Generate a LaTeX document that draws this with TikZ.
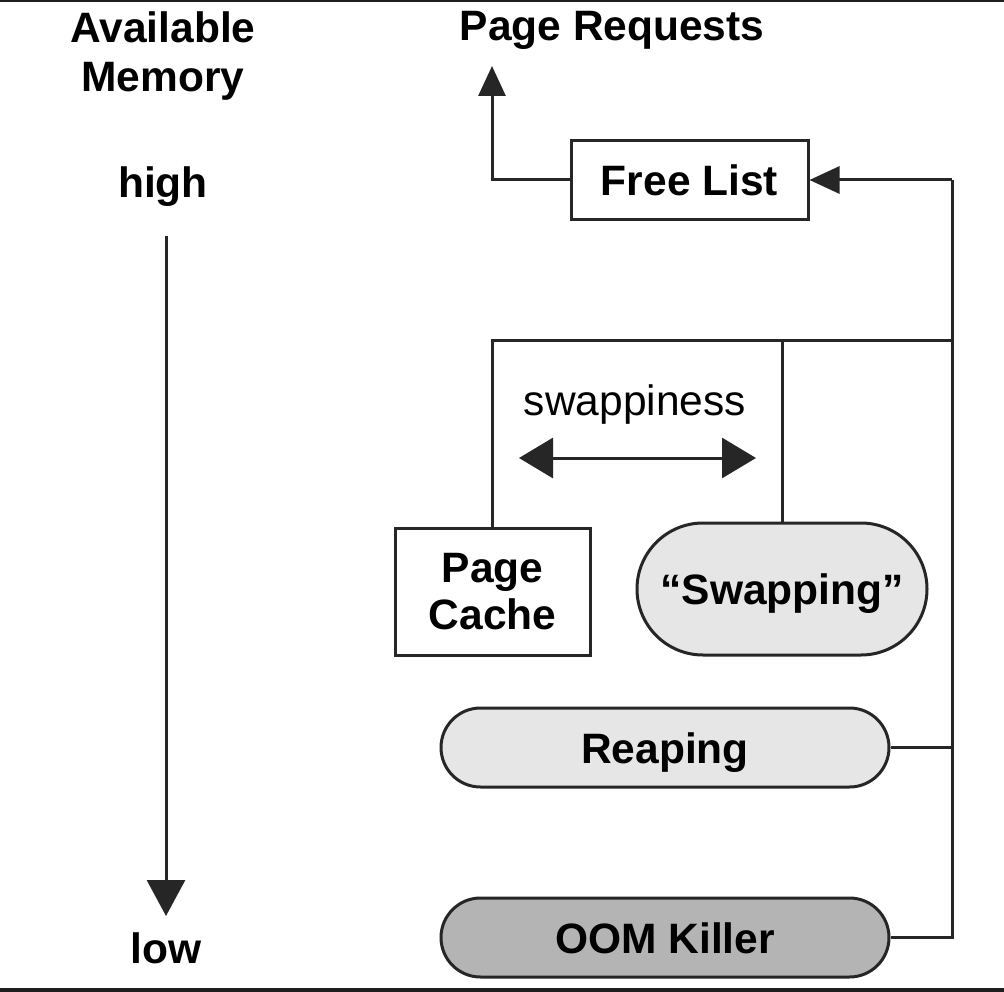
\documentclass[tikz,border=0pt]{standalone}
\usepackage{fontspec}
\setmainfont{Liberation Sans}
\usetikzlibrary{arrows.meta}
\definecolor{linec}{HTML}{262626}
\definecolor{barc}{HTML}{1E1E1E}
\definecolor{lightfill}{HTML}{E6E6E6}
\definecolor{darkfill}{HTML}{B4B4B4}
\tikzset{
  lbl/.style={font=\fontsize{42.5}{49}\selectfont\bfseries, inner sep=0pt, align=center, text=black},
  oneline/.style={text height=31pt, text depth=0pt},
  boxnode/.style={draw=linec, line width=3pt, fill=white, inner sep=0pt, align=center,
    font=\fontsize{42.5}{47}\selectfont\bfseries},
  ln/.style={draw=linec, line width=3pt},
  bigtip/.style={-{Triangle[length=30pt,width=27pt]}},
}
\begin{document}
\begin{tikzpicture}[x=1pt,y=-1pt]
\fill[white] (0,0) rectangle (1004,992);
\useasboundingbox (0,0) rectangle (1004,992);
\fill[barc] (0,0) rectangle (1004,2.5);
\fill[barc] (0,988) rectangle (1004,992);

% labels
\node[lbl] (avail) at (163,56) {Available\\Memory};
\node[lbl, oneline] (high) at (163,182) {high};
\node[lbl, oneline] (low) at (166,948) {low};
\node[lbl, oneline] (preqtxt) at (612,25) {Page Requests};
\node[lbl, oneline, font=\fontsize{42.5}{49}\selectfont] (swp) at (635,400) {swappiness};

% boxes
\node[boxnode, oneline, minimum width=237pt, minimum height=79pt] (free) at (689.5,180) {Free List};
\node[boxnode, minimum width=195pt, minimum height=127pt] (pc) at (492.5,591.5) {Page\\Cache};
\node[boxnode, oneline, fill=lightfill, rounded corners=66pt, minimum width=290pt, minimum height=132pt] (swap) at (782,589) {“Swapping”};
\node[boxnode, oneline, fill=lightfill, rounded corners=39.5pt, minimum width=448pt, minimum height=79pt] (reap) at (665,747.5) {Reaping};
\node[boxnode, oneline, fill=darkfill, rounded corners=39.5pt, minimum width=448pt, minimum height=79pt] (oom) at (665,937.5) {OOM Killer};

% coordinates
\coordinate (trunkTop) at (952,180);
\coordinate (trunkJ) at (952,340);
\coordinate (preq) at (492,66);
\coordinate (memtop) at (166,236);
\coordinate (membot) at (166,916);
\coordinate (swL) at (519,458);
\coordinate (swR) at (756,458);

% connectors
\draw[ln] (oom.east) -| (trunkTop);
\draw[ln, bigtip] (trunkTop) -- (free.east);
\draw[ln] (reap.east) -- (reap.east -| trunkTop);
\draw[ln] (pc.north) |- (trunkJ);
\draw[ln] (swap.north) -- (swap.north |- trunkJ);
\draw[ln, bigtip] (free.west) -| (preq);
\draw[ln, -{Triangle[length=36pt,width=38pt]}] (memtop) -- (membot);
\draw[ln, {Triangle[length=34pt,width=40pt]}-{Triangle[length=34pt,width=40pt]}] (swL) -- (swR);
\end{tikzpicture}
\end{document}
